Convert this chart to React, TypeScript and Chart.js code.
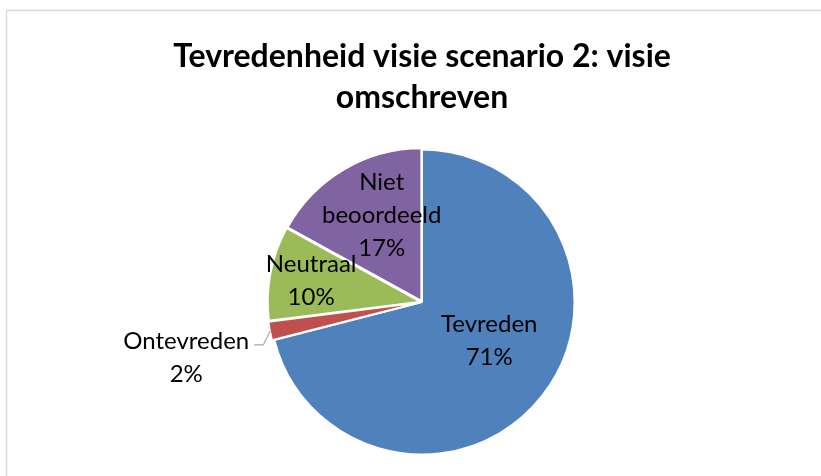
import React, { useEffect, useRef } from "react";
import { Chart, registerables } from "chart.js";

Chart.register(...registerables);

const TITLE_LINES = ["Tevredenheid visie scenario 2: visie", "omschreven"];
const CATEGORIES = ["Tevreden", "Ontevreden", "Neutraal", "Niet beoordeeld"];
const LABEL_LINES = [["Tevreden"], ["Ontevreden"], ["Neutraal"], ["Niet", "beoordeeld"]];
const VALUES = [71, 2, 10, 17];
const COLORS = ["#4F81BD", "#C0504D", "#9BBB59", "#8064A2"];
// radial position of labels as fraction of radius (>1 means outside with leader)
const LABEL_RADIUS = [0.51, 1.45, 0.74, 0.625];
// angular nudge of labels (degrees) relative to the slice middle
const LABEL_ANGLE_SHIFT = [-7.6, 0, 0, 5.6];

const FONT = "Lato, 'Open Sans', 'DejaVu Sans', sans-serif";

const decorPlugin = {
  id: "decor",
  beforeDraw(chart: any) {
    const ctx = chart.ctx;
    ctx.save();
    ctx.fillStyle = "#ffffff";
    ctx.fillRect(0, 0, chart.width, chart.height);
    ctx.strokeStyle = "#D9D9D9";
    ctx.lineWidth = 1.5;
    ctx.strokeRect(6.5, 10.5, chart.width + 20, chart.height + 20);
    ctx.fillStyle = "#000000";
    ctx.font = "bold 32px " + FONT;
    ctx.textAlign = "center";
    ctx.textBaseline = "middle";
    ctx.fillText(TITLE_LINES[0], 422, 57);
    ctx.fillText(TITLE_LINES[1], 422, 98);
    ctx.restore();
  },
  afterDatasetsDraw(chart: any) {
    const ctx = chart.ctx;
    const meta = chart.getDatasetMeta(0);
    const total = VALUES.reduce((a, b) => a + b, 0);
    ctx.save();
    ctx.font = "24px " + FONT;
    ctx.fillStyle = "#000000";
    ctx.textBaseline = "middle";
    meta.data.forEach((arc: any, i: number) => {
      const p = arc.getProps(["x", "y", "startAngle", "endAngle", "outerRadius"], true);
      const mid = (p.startAngle + p.endAngle) / 2 + (LABEL_ANGLE_SHIFT[i] * Math.PI) / 180;
      const pct = Math.round((VALUES[i] / total) * 100) + "%";
      const lines = [...LABEL_LINES[i], pct];
      const lh = 33;
      const f = LABEL_RADIUS[i];
      if (f <= 1) {
        const cx = p.x + Math.cos(mid) * p.outerRadius * f;
        const cy = p.y + Math.sin(mid) * p.outerRadius * f;
        ctx.textAlign = "center";
        lines.forEach((t: string, k: number) => {
          ctx.fillText(t, cx, cy + (k - (lines.length - 1) / 2) * lh);
        });
      } else {
        const ex = p.x + Math.cos(mid) * (p.outerRadius + 2);
        const ey = p.y + Math.sin(mid) * (p.outerRadius + 2);
        const kx = ex - 7;
        const ky = ey + 14;
        ctx.strokeStyle = "#A6A6A6";
        ctx.lineWidth = 1.2;
        ctx.beginPath();
        ctx.moveTo(ex, ey);
        ctx.lineTo(kx, ky);
        ctx.lineTo(kx - 9, ky);
        ctx.stroke();
        const w = ctx.measureText(lines[0]).width;
        const cx = kx - 14 - w / 2;
        ctx.textAlign = "center";
        ctx.fillText(lines[0], cx, ky - 4);
        ctx.fillText(lines[1], cx, ky - 4 + lh);
      }
    });
    ctx.restore();
  },
};

export default function App() {
  const ref = useRef<HTMLCanvasElement | null>(null);
  useEffect(() => {
    if (!ref.current) return;
    const chart = new Chart(ref.current, {
      type: "pie",
      data: {
        labels: CATEGORIES,
        datasets: [
          {
            data: VALUES,
            backgroundColor: COLORS,
            borderColor: "#ffffff",
            borderWidth: 2,
            offset: [0, 5, 5, 5],
          },
        ],
      },
      options: {
        responsive: false,
        animation: false,
        layout: { padding: { top: 146, bottom: 18, left: 266, right: 243 } },
        plugins: {
          legend: { display: false },
          title: { display: false },
          tooltip: { enabled: false },
        },
      },
      plugins: [decorPlugin],
    });
    return () => chart.destroy();
  }, []);
  return (
    <div style={{ position: "absolute", left: 0, top: 0, width: 821, height: 476 }}>
      <canvas ref={ref} width={821} height={476} style={{ width: 821, height: 476 }} />
    </div>
  );
}
